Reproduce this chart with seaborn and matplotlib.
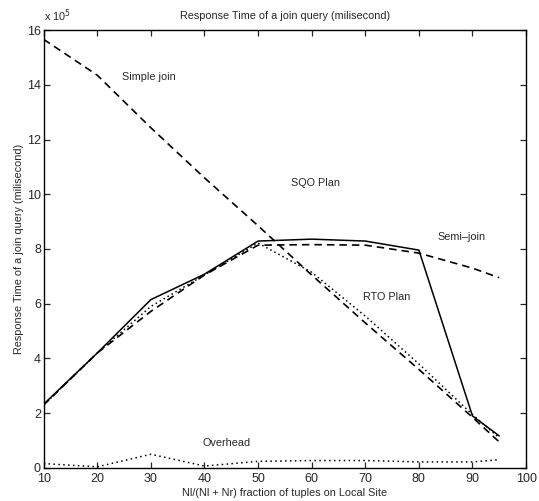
import numpy as np
import pandas as pd
import seaborn as sns
import matplotlib.pyplot as plt

# fraction of tuples on local site (%)
frac = [10, 20, 30, 40, 50, 60, 70, 80, 90, 95]

# response times, in units of 1e5 ms
simple_join = [15.66, 14.35, 12.43, 10.6, 8.85, 7.05, 5.3, 3.6, 1.85, 0.95]
semi_join = [2.3, 4.2, 5.72, 7.05, 8.14, 8.16, 8.14, 7.85, 7.3, 6.95]
sqo_plan = [2.33, 4.2, 6.15, 7.08, 8.29, 8.36, 8.29, 7.96, 1.9, 1.17]
rto_plan = [2.3, 4.2, 5.9, 7.05, 8.22, 7.15, 5.55, 3.8, 1.95, 1.1]
overhead = [0.16, 0.04, 0.5, 0.07, 0.24, 0.27, 0.27, 0.22, 0.22, 0.3]

sns.set_style("ticks")
plt.rcParams['font.family'] = ['Liberation Sans', 'DejaVu Sans']

fig = plt.figure(figsize=(5.39, 5.01), dpi=100)
ax = fig.add_axes([0.081, 0.066, 0.895, 0.874])

fs = 7.8
sns.lineplot(x=frac, y=simple_join, ax=ax, color='black', lw=1.2, linestyle=(0, (4.5, 3)))
sns.lineplot(x=frac, y=semi_join, ax=ax, color='black', lw=1.2, linestyle=(0, (4.5, 3)))
sns.lineplot(x=frac, y=sqo_plan, ax=ax, color='black', lw=1.1, linestyle='-')
sns.lineplot(x=frac, y=rto_plan, ax=ax, color='black', lw=1.1, linestyle=(0, (1, 2)))
sns.lineplot(x=frac, y=overhead, ax=ax, color='black', lw=1.1, linestyle=(0, (1, 2.2)))

ax.set_xlim(10, 100)
ax.set_ylim(0, 16)
ax.set_xticks(np.arange(10, 101, 10))
ax.set_yticks(np.arange(0, 17, 2))
ax.tick_params(direction='in', top=True, right=True, length=4, width=0.9,
               labelsize=fs + 1.2)
ax.tick_params(axis='x', pad=4)
ax.tick_params(axis='y', pad=2)
for s in ax.spines.values():
    s.set_linewidth(1.0)
    s.set_color('black')

ax.set_title('Response Time of a join query (milisecond)', fontsize=fs, pad=8)
ax.set_xlabel('Nl/(Nl + Nr) fraction of tuples on Local Site', fontsize=fs, labelpad=2)
ax.set_ylabel('Response Time of a join query (milisecond)', fontsize=fs, labelpad=2)
ax.text(0.0, 1.014, r'x 10$^5$', transform=ax.transAxes, fontsize=fs, va='bottom')

ax.text(24.6, 14.3, 'Simple join', fontsize=fs, va='center')
ax.text(56.2, 10.4, 'SQO Plan', fontsize=fs, va='center')
ax.text(83.4, 8.45, 'Semi\u2013join', fontsize=fs, va='center')
ax.text(69.6, 6.25, 'RTO Plan', fontsize=fs, va='center')
ax.text(39.7, 0.9, 'Overhead', fontsize=fs, va='center')

fig.savefig('out.png', dpi=100)
